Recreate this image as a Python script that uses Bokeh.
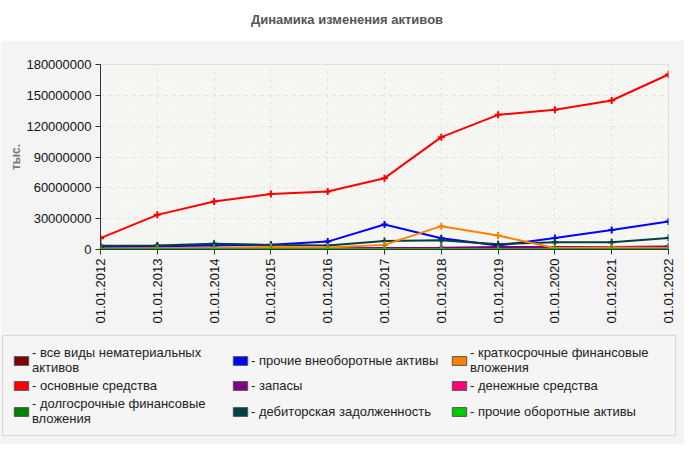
from bokeh.plotting import figure
from bokeh.models import (Range1d, FixedTicker, BasicTickFormatter, Legend, LegendItem,
                          BoxAnnotation, Div, ColumnDataSource)
from bokeh.layouts import column, row
from bokeh.embed import file_html
from bokeh.resources import INLINE
import math

dates = ["01.01.2012", "01.01.2013", "01.01.2014", "01.01.2015", "01.01.2016", "01.01.2017",
         "01.01.2018", "01.01.2019", "01.01.2020", "01.01.2021", "01.01.2022"]

nematerialnye = [100000, 100000, 100000, 100000, 100000, 100000, 100000, 100000, 100000, 100000, 100000]
osnovnye = [11000000, 33700000, 46700000, 54000000, 56500000, 69400000, 109300000, 131000000, 135900000, 145000000, 170300000]
dolgosrochnye = [300000, 300000, 300000, 300000, 300000, 300000, 300000, 300000, 300000, 300000, 300000]
prochie_vneob = [3000000, 3200000, 3800000, 4600000, 7700000, 24300000, 11000000, 3900000, 11300000, 19000000, 27200000]
zapasy = [1000000, 1000000, 1000000, 1000000, 1200000, 1500000, 1800000, 2500000, 2500000, 2500000, 3000000]
debitorskaya = [3600000, 3800000, 5500000, 4500000, 4000000, 8200000, 9000000, 5200000, 7100000, 7100000, 11300000]
kratkosrochnye = [500000, 1000000, 1500000, 2500000, 2000000, 4500000, 22700000, 13600000, 1500000, 2000000, 1500000]
denezhnye = [500000, 500000, 500000, 500000, 500000, 500000, 500000, 500000, 500000, 500000, 500000]
prochie_obor = [300000, 300000, 300000, 300000, 300000, 300000, 300000, 300000, 300000, 300000, 300000]

y_ticks = [0, 30000000, 60000000, 90000000, 120000000, 150000000, 180000000]

series = [
    ("- все виды нематериальных\nактивов", nematerialnye, "#800000"),
    ("- основные средства", osnovnye, "#ff0000"),
    ("- долгосрочные финансовые\nвложения", dolgosrochnye, "#008000"),
    ("- прочие внеоборотные активы", prochie_vneob, "#0000ff"),
    ("- запасы", zapasy, "#800080"),
    ("- дебиторская задолженность", debitorskaya, "#004040"),
    ("- краткосрочные финансовые\nвложения", kratkosrochnye, "#ff8000"),
    ("- денежные средства", denezhnye, "#ff0080"),
    ("- прочие оборотные активы", prochie_obor, "#00cc00"),
]

FONT = "Liberation Sans"
xs = list(range(len(dates)))

p = figure(width=684, height=292, output_backend="svg", toolbar_location=None,
           x_range=Range1d(0, len(dates) - 1), y_range=Range1d(0, 180000000),
           min_border_left=100, min_border_right=16, min_border_top=24, min_border_bottom=83,
           border_fill_color="#f4f4f4", background_fill_color="#fcfcf7",
           outline_line_color="#dddddd")

p.add_layout(BoxAnnotation(fill_color=None, line_color=None, hatch_pattern="/",
                           hatch_color="#ececec", hatch_scale=5, hatch_weight=1, level="underlay"))

# legend figure (no axes), wrapped in a row so its frame is not aligned with the chart's
lf = figure(width=684, height=112, output_backend="svg", toolbar_location=None,
            x_range=Range1d(0, 1), y_range=Range1d(0, 1),
            x_axis_location=None, y_axis_location=None,
            min_border_left=0, min_border_right=0, min_border_top=0, min_border_bottom=0,
            border_fill_color="#f4f4f4", background_fill_color="#f4f4f4",
            outline_line_color=None)
lf.grid.visible = False

items = []
for label, vals, color in series:
    src = ColumnDataSource(dict(x=xs, y=vals))
    p.line("x", "y", source=src, line_color=color, line_width=2)
    p.scatter("x", "y", source=src, marker="cross", size=7, line_color=color, line_width=2)
    sw = lf.rect(x=[math.nan], y=[math.nan], width=1, height=1, fill_color=color,
                 line_color="#555555", line_width=1)
    items.append(LegendItem(label=label, renderers=[sw]))

p.xaxis.ticker = FixedTicker(ticks=xs)
p.xaxis.major_label_overrides = {i: d for i, d in enumerate(dates)}
p.xaxis.major_label_orientation = math.pi / 2
p.yaxis.ticker = FixedTicker(ticks=y_ticks)
p.yaxis.formatter = BasicTickFormatter(use_scientific=False)
p.yaxis.axis_label = "тыс."
p.yaxis.axis_label_text_font = FONT
p.yaxis.axis_label_text_font_size = "12px"
p.yaxis.axis_label_text_font_style = "bold"
p.yaxis.axis_label_text_color = "#777777"
p.yaxis.axis_label_standoff = 0

for ax in (p.xaxis[0], p.yaxis[0]):
    ax.major_label_text_font = FONT
    ax.major_label_text_font_size = "13px"
    ax.major_label_text_color = "#111111"
    ax.axis_line_color = "#333333"
    ax.major_tick_line_color = "#333333"
    ax.major_tick_out = 5
    ax.major_tick_in = 0
    ax.minor_tick_line_color = None
    ax.major_label_standoff = 4

for g in (p.xgrid[0], p.ygrid[0]):
    g.grid_line_color = "#dddddd"
    g.grid_line_dash = "4 4"

legend = Legend(items=items, location=(2, 8), orientation="vertical", nrows=3,
                background_fill_color="#f4f4f4", border_line_color="#bbbbbb",
                label_text_font=FONT, label_text_font_size="13px", label_text_color="#222222",
                label_text_line_height=0.85,
                glyph_width=18, glyph_height=11, label_standoff=2, label_width=196,
                spacing=3, padding=9, margin=0)
lf.add_layout(legend, "center")

title = Div(text="Динамика изменения активов", width=684, height=30,
            styles={"text-align": "center", "font-family": FONT, "font-size": "13px",
                    "font-weight": "bold", "color": "#555555", "line-height": "30px",
                    "width": "684px"})

layout = column(title, p, row(lf), spacing=0)
open("out.html", "w").write(file_html(layout, INLINE))
